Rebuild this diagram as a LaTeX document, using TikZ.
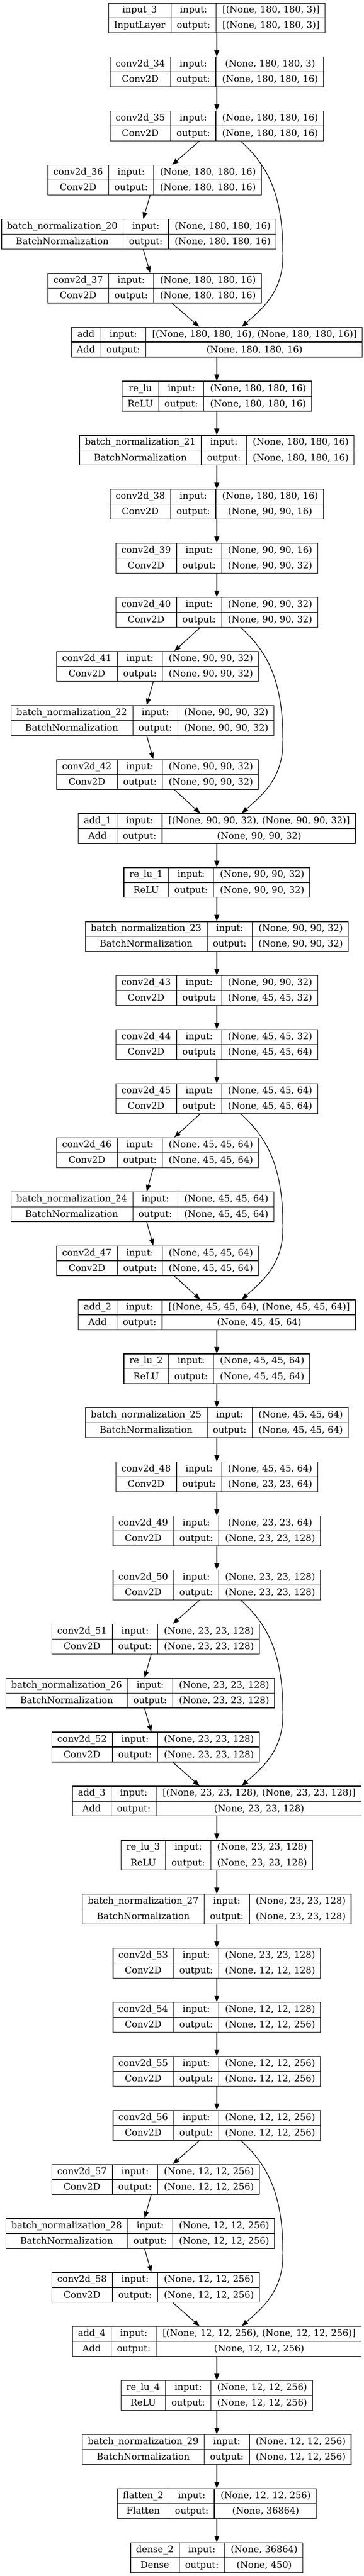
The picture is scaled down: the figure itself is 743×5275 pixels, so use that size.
\documentclass[tikz,border=0pt]{standalone}
\usepackage{fontspec}
\setmainfont{DejaVu Serif}
\usetikzlibrary{arrows.meta, calc}
\newcommand{\vizArrow}{{Triangle[length=10pt, width=7.5pt]}}
\newcommand{\layerfont}{\fontsize{14}{16.8}\selectfont}
\newlength{\colA}\newlength{\colB}\newlength{\colC}\newlength{\tmpa}\newlength{\tmpb}
\newcommand{\cellpad}{17.6pt}
% width of a column: the wider of its two texts plus padding
\newcommand{\fitcol}[3]{%
  \pgfinterruptpicture
    \settowidth{\tmpa}{\layerfont #2}\settowidth{\tmpb}{\layerfont #3}%
    \ifdim\tmpb>\tmpa\tmpa=\tmpb\fi
    \global#1=\tmpa
  \endpgfinterruptpicture
  \addtolength{#1}{\cellpad}}
% one layer: node name, x, row, layer name, class, input, output
\newcommand{\layer}[7]{%
  \fitcol{\colA}{#4}{#5}\fitcol{\colB}{input:}{output:}\fitcol{\colC}{#6}{#7}%
  \node[layerbox, minimum width=\colA+\colB+\colC] (#1) at (#2, {36.7+110.65*#3}) {};
  \draw[line width=1pt] (#1.west) -- (#1.east)
    ([xshift=\colA]#1.north west) -- ([xshift=\colA]#1.south west)
    ([xshift=\colA+\colB]#1.north west) -- ([xshift=\colA+\colB]#1.south west);
  \node[celltext] at ([xshift=0.5*\colA, yshift=-11.44pt]#1.north west) {#4};
  \node[celltext] at ([xshift=0.5*\colA, yshift=11.44pt]#1.south west) {#5};
  \node[celltext] at ([xshift=\colA+0.5*\colB, yshift=-11.44pt]#1.north west) {input:};
  \node[celltext] at ([xshift=\colA+0.5*\colB, yshift=11.44pt]#1.south west) {output:};
  \node[celltext] at ([xshift=-0.5*\colC, yshift=-11.44pt]#1.north east) {#6};
  \node[celltext] at ([xshift=-0.5*\colC, yshift=11.44pt]#1.south east) {#7};
}
\tikzset{
  layerbox/.style={draw, line width=1pt, minimum height=45.75pt, inner sep=0pt},
  celltext/.style={font=\layerfont, inner sep=0pt, text height=10pt, text depth=1.9pt},
  edge/.style={-\vizArrow, line width=1pt}
}

\begin{document}
\begin{tikzpicture}[x=0.75pt, y=-0.75pt]
	\useasboundingbox (0,0) rectangle (743,5275);
	\def\M{443}
	
	% stem
	\layer{input3}{\M}{0}{input\_3}{InputLayer}{[(None, 180, 180, 3)]}{[(None, 180, 180, 3)]}
	\layer{conv34}{\M}{1}{conv2d\_34}{Conv2D}{(None, 180, 180, 3)}{(None, 180, 180, 16)}
	\layer{conv35}{\M}{2}{conv2d\_35}{Conv2D}{(None, 180, 180, 16)}{(None, 180, 180, 16)}
	\layer{conv36}{316}{3}{conv2d\_36}{Conv2D}{(None, 180, 180, 16)}{(None, 180, 180, 16)}
	\layer{bn20}{283.5}{4}{batch\_normalization\_20}{BatchNormalization}{(None, 180, 180, 16)}{(None, 180, 180, 16)}
	\layer{conv37}{316}{5}{conv2d\_37}{Conv2D}{(None, 180, 180, 16)}{(None, 180, 180, 16)}
	\layer{add0}{\M}{6}{add}{Add}{[(None, 180, 180, 16), (None, 180, 180, 16)]}{(None, 180, 180, 16)}
	\layer{relu0}{\M}{7}{re\_lu}{ReLU}{(None, 180, 180, 16)}{(None, 180, 180, 16)}
	\layer{bn21}{\M}{8}{batch\_normalization\_21}{BatchNormalization}{(None, 180, 180, 16)}{(None, 180, 180, 16)}
	\layer{conv38}{\M}{9}{conv2d\_38}{Conv2D}{(None, 180, 180, 16)}{(None, 90, 90, 16)}
	\layer{conv39}{\M}{10}{conv2d\_39}{Conv2D}{(None, 90, 90, 16)}{(None, 90, 90, 32)}
	
	% 90 x 90
	\layer{conv40}{\M}{11}{conv2d\_40}{Conv2D}{(None, 90, 90, 32)}{(None, 90, 90, 32)}
	\layer{conv41}{322}{12}{conv2d\_41}{Conv2D}{(None, 90, 90, 32)}{(None, 90, 90, 32)}
	\layer{bn22}{291}{13}{batch\_normalization\_22}{BatchNormalization}{(None, 90, 90, 32)}{(None, 90, 90, 32)}
	\layer{conv42}{322}{14}{conv2d\_42}{Conv2D}{(None, 90, 90, 32)}{(None, 90, 90, 32)}
	\layer{add1}{\M}{15}{add\_1}{Add}{[(None, 90, 90, 32), (None, 90, 90, 32)]}{(None, 90, 90, 32)}
	\layer{relu1}{\M}{16}{re\_lu\_1}{ReLU}{(None, 90, 90, 32)}{(None, 90, 90, 32)}
	\layer{bn23}{\M}{17}{batch\_normalization\_23}{BatchNormalization}{(None, 90, 90, 32)}{(None, 90, 90, 32)}
	\layer{conv43}{\M}{18}{conv2d\_43}{Conv2D}{(None, 90, 90, 32)}{(None, 45, 45, 32)}
	\layer{conv44}{\M}{19}{conv2d\_44}{Conv2D}{(None, 45, 45, 32)}{(None, 45, 45, 64)}
	
	% 45 x 45
	\layer{conv45}{\M}{20}{conv2d\_45}{Conv2D}{(None, 45, 45, 64)}{(None, 45, 45, 64)}
	\layer{conv46}{322}{21}{conv2d\_46}{Conv2D}{(None, 45, 45, 64)}{(None, 45, 45, 64)}
	\layer{bn24}{291}{22}{batch\_normalization\_24}{BatchNormalization}{(None, 45, 45, 64)}{(None, 45, 45, 64)}
	\layer{conv47}{322}{23}{conv2d\_47}{Conv2D}{(None, 45, 45, 64)}{(None, 45, 45, 64)}
	\layer{add2}{\M}{24}{add\_2}{Add}{[(None, 45, 45, 64), (None, 45, 45, 64)]}{(None, 45, 45, 64)}
	\layer{relu2}{\M}{25}{re\_lu\_2}{ReLU}{(None, 45, 45, 64)}{(None, 45, 45, 64)}
	\layer{bn25}{\M}{26}{batch\_normalization\_25}{BatchNormalization}{(None, 45, 45, 64)}{(None, 45, 45, 64)}
	\layer{conv48}{\M}{27}{conv2d\_48}{Conv2D}{(None, 45, 45, 64)}{(None, 23, 23, 64)}
	\layer{conv49}{\M}{28}{conv2d\_49}{Conv2D}{(None, 23, 23, 64)}{(None, 23, 23, 128)}
	
	% 23 x 23
	\layer{conv50}{\M}{29}{conv2d\_50}{Conv2D}{(None, 23, 23, 128)}{(None, 23, 23, 128)}
	\layer{conv51}{318}{30}{conv2d\_51}{Conv2D}{(None, 23, 23, 128)}{(None, 23, 23, 128)}
	\layer{bn26}{286.5}{31}{batch\_normalization\_26}{BatchNormalization}{(None, 23, 23, 128)}{(None, 23, 23, 128)}
	\layer{conv52}{318}{32}{conv2d\_52}{Conv2D}{(None, 23, 23, 128)}{(None, 23, 23, 128)}
	\layer{add3}{\M}{33}{add\_3}{Add}{[(None, 23, 23, 128), (None, 23, 23, 128)]}{(None, 23, 23, 128)}
	\layer{relu3}{\M}{34}{re\_lu\_3}{ReLU}{(None, 23, 23, 128)}{(None, 23, 23, 128)}
	\layer{bn27}{\M}{35}{batch\_normalization\_27}{BatchNormalization}{(None, 23, 23, 128)}{(None, 23, 23, 128)}
	\layer{conv53}{\M}{36}{conv2d\_53}{Conv2D}{(None, 23, 23, 128)}{(None, 12, 12, 128)}
	\layer{conv54}{\M}{37}{conv2d\_54}{Conv2D}{(None, 12, 12, 128)}{(None, 12, 12, 256)}
	
	% 12 x 12
	\layer{conv55}{\M}{38}{conv2d\_55}{Conv2D}{(None, 12, 12, 256)}{(None, 12, 12, 256)}
	\layer{conv56}{\M}{39}{conv2d\_56}{Conv2D}{(None, 12, 12, 256)}{(None, 12, 12, 256)}
	\layer{conv57}{318}{40}{conv2d\_57}{Conv2D}{(None, 12, 12, 256)}{(None, 12, 12, 256)}
	\layer{bn28}{286.5}{41}{batch\_normalization\_28}{BatchNormalization}{(None, 12, 12, 256)}{(None, 12, 12, 256)}
	\layer{conv58}{318}{42}{conv2d\_58}{Conv2D}{(None, 12, 12, 256)}{(None, 12, 12, 256)}
	\layer{add4}{\M}{43}{add\_4}{Add}{[(None, 12, 12, 256), (None, 12, 12, 256)]}{(None, 12, 12, 256)}
	\layer{relu4}{\M}{44}{re\_lu\_4}{ReLU}{(None, 12, 12, 256)}{(None, 12, 12, 256)}
	\layer{bn29}{\M}{45}{batch\_normalization\_29}{BatchNormalization}{(None, 12, 12, 256)}{(None, 12, 12, 256)}
	\layer{flatten2}{\M}{46}{flatten\_2}{Flatten}{(None, 12, 12, 256)}{(None, 36864)}
	\layer{dense2}{\M}{47}{dense\_2}{Dense}{(None, 36864)}{(None, 450)}
	
	% straight edges
	\foreach \a/\b in {input3/conv34, conv34/conv35, conv35/conv36, conv36/bn20, bn20/conv37, conv37/add0,
		add0/relu0, relu0/bn21, bn21/conv38, conv38/conv39, conv39/conv40,
		conv40/conv41, conv41/bn22, bn22/conv42, conv42/add1,
		add1/relu1, relu1/bn23, bn23/conv43, conv43/conv44, conv44/conv45,
		conv45/conv46, conv46/bn24, bn24/conv47, conv47/add2,
		add2/relu2, relu2/bn25, bn25/conv48, conv48/conv49, conv49/conv50,
		conv50/conv51, conv51/bn26, bn26/conv52, conv52/add3,
		add3/relu3, relu3/bn27, bn27/conv53, conv53/conv54, conv54/conv55, conv55/conv56,
		conv56/conv57, conv57/bn28, bn28/conv58, conv58/add4,
		add4/relu4, relu4/bn29, bn29/flatten2, flatten2/dense2}
		\draw[edge] (\a) -- (\b);
	
	% skip connections
	\foreach \s/\t in {conv35/add0, conv40/add1, conv45/add2, conv50/add3, conv56/add4}
		\draw[edge] ($(\s.south)+(49,0)$) .. controls +(55,50) and +(1,-125) .. ($(\s.south)+(135,235)$)
			.. controls +(0,75) and +(40,-36) .. ($(\t.north)+(51,0)$);
\end{tikzpicture}
\end{document}
